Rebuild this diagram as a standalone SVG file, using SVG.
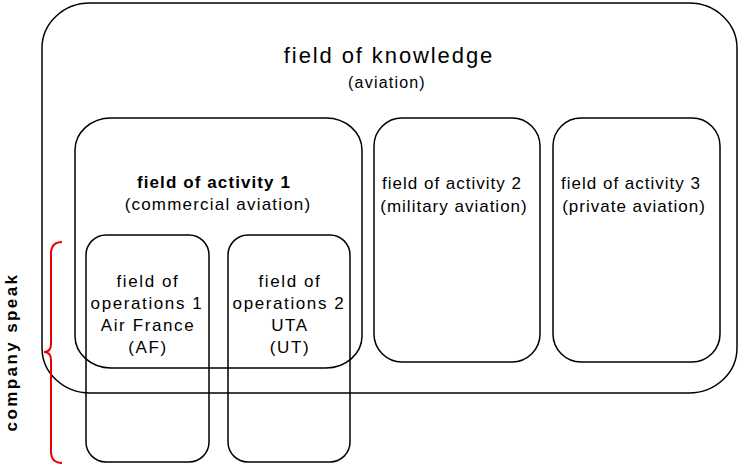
<svg xmlns="http://www.w3.org/2000/svg" width="740" height="465" viewBox="0 0 740 465">
<style>
.box{fill:none;stroke:#000;stroke-width:1.5}
.t{font-family:"Liberation Sans",Arial,sans-serif;fill:#000;text-anchor:middle}
.s{font-size:17px;letter-spacing:1px}
.op{font-size:17px;letter-spacing:1.6px}
.big{font-size:22px;letter-spacing:1.9px}
.sm{font-size:16px;letter-spacing:1.2px}
.b{font-weight:bold}
</style>
<rect width="740" height="465" fill="#fff"/>
<g id="knowledge">
<rect class="box" x="42" y="3" width="695" height="390" rx="48" ry="45"/>
<text class="t big" x="389" y="63">field of knowledge</text>
<text class="t sm" x="387" y="88">(aviation)</text>
</g>
<g id="activity1">
<rect class="box" x="75" y="118" width="287" height="250" rx="36" ry="32"/>
<text class="t b" font-size="17" letter-spacing="1.1" x="214" y="188">field of activity 1</text>
<text class="t" font-size="17" letter-spacing="1.2" x="218" y="210">(commercial aviation)</text>
</g>
<g id="activity2">
<rect class="box" x="374" y="118" width="166" height="244" rx="28" ry="28"/>
<text class="t s" x="452" y="189" letter-spacing="1.6">field of activity 2</text>
<text class="t s" x="454" y="212">(military aviation)</text>
</g>
<g id="activity3">
<rect class="box" x="553" y="118" width="167" height="244" rx="28" ry="28"/>
<text class="t s" x="631" y="189" letter-spacing="1.5">field of activity 3</text>
<text class="t s" x="634" y="212">(private aviation)</text>
</g>
<g id="operations1">
<rect class="box" x="86" y="235" width="123" height="227" rx="20" ry="20"/>
<text class="t op" x="148" y="287">field of</text>
<text class="t op" x="147" y="309">operations 1</text>
<text class="t op" x="148" y="331">Air France</text>
<text class="t op" x="148" y="353">(AF)</text>
</g>
<g id="operations2">
<rect class="box" x="228" y="235" width="122" height="227" rx="20" ry="20"/>
<text class="t op" x="290" y="287">field of</text>
<text class="t op" x="289" y="309">operations 2</text>
<text class="t op" x="290" y="331">UTA</text>
<text class="t op" x="290" y="353">(UT)</text>
</g>
<g id="connectors">
<path d="M62,242 Q52,242 51,252 L51,344 Q51,352 44,352 Q51,352 51,360 L51,453 Q52,463 62,463" fill="none" stroke="#e00" stroke-width="2"/>
</g>
<g id="company-speak">
<text class="t b" font-size="17" letter-spacing="2.4" transform="translate(17,352) rotate(-90)">company speak</text>
</g>
</svg>
